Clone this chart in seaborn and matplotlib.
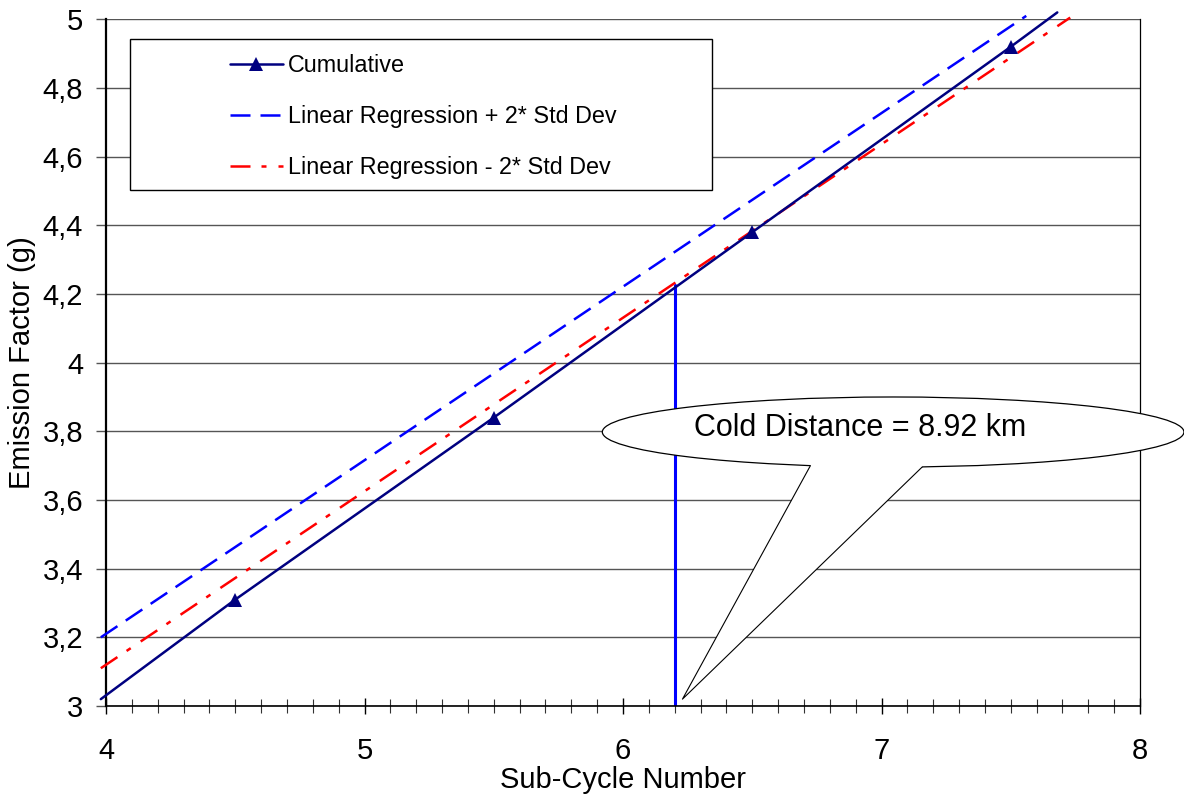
import matplotlib
matplotlib.use("Agg")
import matplotlib.pyplot as plt
import seaborn as sns
import pandas as pd
from matplotlib.patches import Ellipse, Polygon, Rectangle
from matplotlib.ticker import FixedLocator, MultipleLocator

# Cumulative emission factor (markers only on the half sub-cycles)
cum_x = [3.98, 4.5, 5.5, 6.5, 7.5, 7.68]
cum_y = [3.02, 3.31, 3.84, 4.38, 4.92, 5.02]

# Regression band lines
upper_x = [3.98, 7.56]
upper_y = [3.20, 5.01]
lower_x = [3.98, 7.73]
lower_y = [3.11, 5.005]

# Cold distance marker
cold_x = [6.2, 6.2]
cold_y = [3.0, 4.225]

labels = ["Cumulative", "Linear Regression + 2* Std Dev", "Linear Regression - 2* Std Dev"]
callout_text = "Cold Distance = 8.92 km"

x_ticks = [4, 5, 6, 7, 8]
y_ticks = [3.0, 3.2, 3.4, 3.6, 3.8, 4.0, 4.2, 4.4, 4.6, 4.8, 5.0]
y_tick_labels = ["3", "3,2", "3,4", "3,6", "3,8", "4", "4,2", "4,4", "4,6", "4,8", "5"]

sns.set_style("white")
plt.rcParams["font.family"] = ["Liberation Sans", "DejaVu Sans"]
plt.rcParams["text.color"] = "black"
plt.rcParams["axes.labelcolor"] = "black"
plt.rcParams["xtick.color"] = "black"
plt.rcParams["ytick.color"] = "black"

fig = plt.figure(figsize=(11.84, 8.07), dpi=100)
ax = fig.add_axes([106 / 1184, 1 - 706 / 807, (1140 - 106) / 1184, (706 - 19.3) / 807])

cum = pd.DataFrame({"x": cum_x, "y": cum_y})
up = pd.DataFrame({"x": upper_x, "y": upper_y})
lo = pd.DataFrame({"x": lower_x, "y": lower_y})
cd = pd.DataFrame({"x": cold_x, "y": cold_y})

sns.lineplot(data=cum, x="x", y="y", ax=ax, color="#000080", lw=1.8, marker="^",
             markersize=9.5, markeredgewidth=0, markevery=[1, 2, 3, 4], label=labels[0],
             clip_on=False, zorder=4, estimator=None)
sns.lineplot(data=up, x="x", y="y", ax=ax, color="#0000FF", lw=1.8,
             linestyle=(0, (8, 4)), label=labels[1], clip_on=False, zorder=3, estimator=None)
sns.lineplot(data=lo, x="x", y="y", ax=ax, color="#FF0000", lw=1.8,
             linestyle=(0, (8, 4.4, 2, 4.8)), label=labels[2], clip_on=False, zorder=3,
             estimator=None)
sns.lineplot(data=cd, x="x", y="y", ax=ax, color="#0000FF", lw=2.2, zorder=2,
             estimator=None, sort=False)

ax.set_xlim(4, 8)
ax.set_ylim(3, 5)

ax.xaxis.set_major_locator(FixedLocator(x_ticks))
ax.xaxis.set_minor_locator(MultipleLocator(0.1))
ax.set_xticklabels([str(t) for t in x_ticks])
ax.yaxis.set_major_locator(FixedLocator(y_ticks))
ax.set_yticklabels(y_tick_labels)

ax.tick_params(axis="x", which="major", direction="inout", length=12, width=1,
               color="black", labelsize=21, pad=16, bottom=True)
ax.tick_params(axis="x", which="minor", direction="inout", length=10, width=0.8,
               color="#333333", bottom=True)
ax.tick_params(axis="y", which="major", direction="out", length=7, width=1,
               color="#555555", labelsize=21, pad=9.5, left=True)

ax.grid(axis="y", color="#555555", lw=1)
ax.set_axisbelow(True)

ax.spines["top"].set_visible(False)
ax.spines["left"].set_linewidth(1.6)
ax.spines["bottom"].set_linewidth(1.2)
ax.spines["right"].set_linewidth(0.9)
for s in ax.spines.values():
    s.set_color("black")

ax.set_xlabel("Sub-Cycle Number", fontsize=21, labelpad=1)
ax.set_ylabel("Emission Factor (g)", fontsize=21, labelpad=5)

# Legend box and entries
box = Rectangle((0.0232, 0.751), 0.5628, 0.220, transform=ax.transAxes,
                facecolor="white", edgecolor="black", lw=1, zorder=5)
ax.add_patch(box)
handles = ax.get_lines()[:3]
leg = ax.legend(handles, labels, loc="upper left", bbox_to_anchor=(0.12, 0.949),
                frameon=False, fontsize=16.8, handlelength=2.25, handletextpad=0.22,
                labelspacing=1.2, borderpad=0, borderaxespad=0)
leg.set_zorder(6)

# Callout bubble
ell = Ellipse((7.045, 3.798), 2.25, 0.204, facecolor="white", edgecolor="black",
              lw=0.9, clip_on=False, zorder=7)
ax.add_patch(ell)
tip = (6.23, 3.02)
a1 = (6.725, 3.700)
a2 = (7.158, 3.6965)
wedge = Polygon([tip, a1, (a1[0], 3.725), (a2[0], 3.725), a2], closed=True,
                facecolor="white", edgecolor="none", clip_on=False, zorder=8)
ax.add_patch(wedge)
ax.plot([a1[0], tip[0], a2[0]], [a1[1], tip[1], a2[1]], color="black", lw=0.8,
        zorder=9, clip_on=False)
ax.text(6.918, 3.785, callout_text, fontsize=22, ha="center", va="baseline", zorder=10)

fig.savefig("out.png", dpi=100)
